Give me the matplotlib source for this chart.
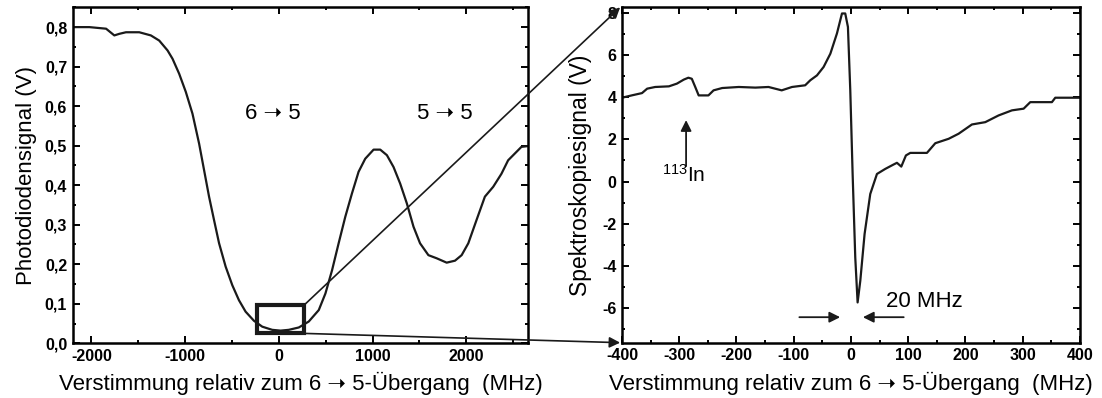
import numpy as np
import matplotlib
matplotlib.use('Agg')
import matplotlib.pyplot as plt
from matplotlib.patches import Rectangle, ConnectionPatch
from matplotlib.ticker import MultipleLocator

plt.rcParams['font.family'] = ['Liberation Sans', 'DejaVu Sans']
plt.rcParams['mathtext.default'] = 'regular'
plt.rcParams['axes.unicode_minus'] = False

# Left panel: photodiode signal over the full scan
det_left = [-2200, -2022, -1844, -1756, -1703, -1632, -1490, -1366, -1277, -1188,
            -1135, -1064, -993, -922, -851, -798, -745, -692, -638, -568,
            -497, -426, -355, -266, -177, -71, 18, 106, 213, 319,
            426, 497, 568, 638, 709, 780, 851, 922, 1011, 1082,
            1153, 1224, 1295, 1366, 1437, 1507, 1596, 1685, 1791, 1880,
            1951, 2022, 2110, 2199, 2288, 2376, 2447, 2518, 2589, 2660]
sig_left = [0.800, 0.800, 0.796, 0.779, 0.783, 0.787, 0.787, 0.779, 0.766, 0.741,
            0.720, 0.682, 0.636, 0.581, 0.505, 0.438, 0.371, 0.312, 0.253, 0.194,
            0.147, 0.109, 0.080, 0.057, 0.042, 0.034, 0.032, 0.034, 0.040, 0.055,
            0.084, 0.126, 0.185, 0.253, 0.320, 0.379, 0.434, 0.467, 0.490, 0.490,
            0.476, 0.446, 0.404, 0.354, 0.295, 0.253, 0.223, 0.215, 0.204, 0.209,
            0.223, 0.253, 0.312, 0.371, 0.396, 0.429, 0.463, 0.480, 0.497, 0.499]
left_yticks = [0.0, 0.1, 0.2, 0.3, 0.4, 0.5, 0.6, 0.7, 0.8]
left_ylabels = ['0,0', '0,1', '0,2', '0,3', '0,4', '0,5', '0,6', '0,7', '0,8']

# Right panel: spectroscopy signal (zoom around the 6->5 line)
det_right = [-400, -383, -365, -356, -342, -318, -304, -292, -284, -278,
             -272, -266, -249, -240, -225, -196, -167, -144, -121, -103,
             -80, -71, -59.4, -47.8, -36, -24.5, -15.7, -10, -5.3, -1.2,
             2.9, 7.5, 11.6, 16.3, 23.8, 33.7, 45.4, 59.9, 74.5, 80.3,
             87.9, 96, 103.6, 132.7, 147.3, 170.6, 188, 211.3, 234.6, 257.9,
             281.2, 301.6, 313.2, 351, 356.9, 400]
sig_right = [3.98, 4.09, 4.20, 4.41, 4.49, 4.52, 4.65, 4.84, 4.93, 4.88,
             4.49, 4.09, 4.09, 4.33, 4.44, 4.49, 4.46, 4.49, 4.33, 4.49,
             4.57, 4.81, 5.04, 5.44, 6.07, 7.03, 7.98, 7.98, 7.34, 4.33,
             0.36, -3.60, -5.74, -4.71, -2.49, -0.59, 0.36, 0.60, 0.81, 0.89,
             0.71, 1.24, 1.36, 1.36, 1.82, 2.03, 2.27, 2.71, 2.82, 3.14,
             3.38, 3.46, 3.77, 3.77, 3.98, 3.98]

ARROW = '\u279d'
xlabel = 'Verstimmung relativ zum 6 ' + ARROW + ' 5-Übergang  (MHz)'

fig = plt.figure(figsize=(11.02, 3.98), dpi=100)
ax1 = fig.add_axes([0.066, 0.1375, 0.4132, 0.845])
ax2 = fig.add_axes([0.5644, 0.1390, 0.4156, 0.8425])


def style(ax):
    for s in ax.spines.values():
        s.set_linewidth(1.8)
    ax.tick_params(which='both', direction='in', top=True, right=True,
                   width=1.4, labelsize=11.5, pad=4)
    ax.tick_params(which='major', length=5)
    ax.tick_params(which='minor', length=2.5)
    for lab in ax.get_xticklabels() + ax.get_yticklabels():
        lab.set_fontweight('bold')


ax1.plot(det_left, sig_left, color='#1a1a1a', lw=1.6)
ax1.set_xlim(-2200, 2660)
ax1.set_ylim(0, 0.851)
ax1.xaxis.set_major_locator(MultipleLocator(1000))
ax1.xaxis.set_minor_locator(MultipleLocator(500))
ax1.set_yticks(left_yticks)
ax1.set_yticklabels(left_ylabels)
ax1.yaxis.set_minor_locator(MultipleLocator(0.05))
style(ax1)
ax1.set_xlabel(xlabel, fontsize=16, labelpad=6)
ax1.set_ylabel('Photodiodensignal (V)', fontsize=16, labelpad=5.5)
ax1.text(-61, 0.581, '6 ' + ARROW + ' 5', fontsize=16, ha='center', va='center')
ax1.text(1774, 0.581, '5 ' + ARROW + ' 5', fontsize=16, ha='center', va='center')
ax1.add_patch(Rectangle((-235, 0.025), 502, 0.071, fill=False,
                        lw=3, ec='#1a1a1a', zorder=3))

ax2.plot(det_right, sig_right, color='#1a1a1a', lw=1.6)
ax2.set_xlim(-400, 400)
ax2.set_ylim(-7.65, 8.27)
ax2.xaxis.set_major_locator(MultipleLocator(100))
ax2.xaxis.set_minor_locator(MultipleLocator(50))
ax2.yaxis.set_major_locator(MultipleLocator(2))
ax2.yaxis.set_minor_locator(MultipleLocator(1))
style(ax2)
ax2.set_xlabel(xlabel, fontsize=16, labelpad=6)
ax2.set_ylabel('Spektroskopiesignal (V)', fontsize=16.5, labelpad=7)

arrow_kw = dict(arrowstyle='-|>', color='#1a1a1a', lw=1.3, mutation_scale=16)
ax2.annotate('', xy=(-288, 3.05), xytext=(-288, 0.6), arrowprops=arrow_kw)
ax2.text(-293, 0.3, '$^{113}$In', fontsize=15, ha='center', va='center')
ax2.annotate('', xy=(-14, -6.44), xytext=(-95, -6.44), arrowprops=arrow_kw)
ax2.annotate('', xy=(16, -6.44), xytext=(97, -6.44), arrowprops=arrow_kw)
ax2.text(129, -5.68, '20 MHz', fontsize=16, ha='center', va='center')

# zoom connectors from the box to the right panel corners
for y0, yf in [(0.096, 1.0), (0.025, 0.0)]:
    con = ConnectionPatch(xyA=(267, y0), coordsA=ax1.transData,
                          xyB=(-0.004, yf), coordsB=ax2.transAxes,
                          arrowstyle='-|>', color='#1a1a1a', lw=1.2,
                          mutation_scale=16)
    fig.add_artist(con)

fig.savefig('out.png', dpi=100)
